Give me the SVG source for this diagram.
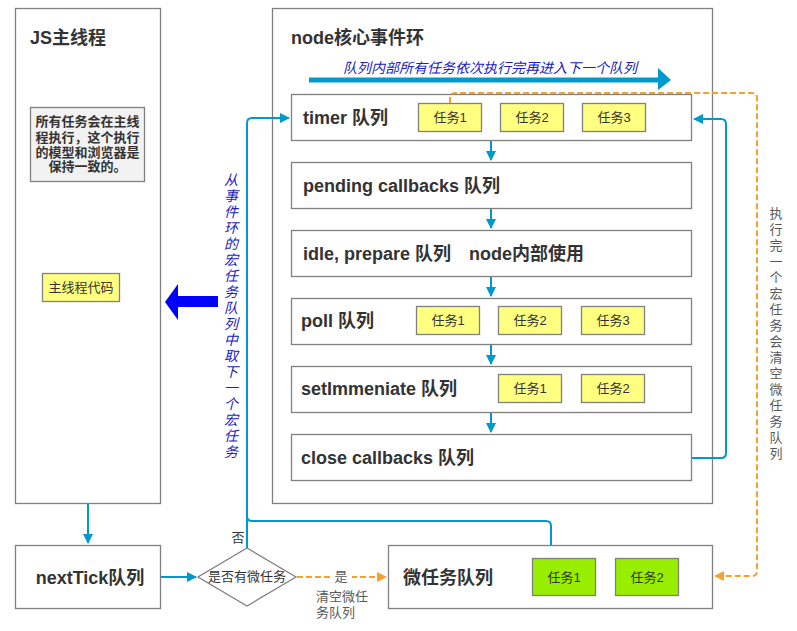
<svg xmlns="http://www.w3.org/2000/svg" width="797" height="631" viewBox="0 0 797 631">
<style>
text{font-family:"Liberation Sans","Noto Sans CJK SC",sans-serif;fill:#333}
.box{fill:#fff;stroke:#808080;stroke-width:1.3}
.title{font-size:18px;font-weight:bold}
.qlabel{font-size:18px;font-weight:bold}
.task{fill:#ffff80;stroke:#808080;stroke-width:1.3}
.gtask{fill:#99ee00;stroke:#808080;stroke-width:1.3}
.tt{font-size:13px;text-anchor:middle}
.blue{fill:none;stroke:#0099cc;stroke-width:2}
.orange{fill:none;stroke:#f5a030;stroke-width:2;stroke-dasharray:6 3}
.vt{font-size:14px;font-style:italic;fill:#2020c0;text-anchor:middle}
.gt{font-size:13px;fill:#595959}
</style>
<defs>
<marker id="ab" viewBox="0 0 10 10" refX="9" refY="5" markerWidth="5" markerHeight="5" orient="auto" markerUnits="strokeWidth"><path d="M0,0 L10,5 L0,10 z" fill="#0099cc"/></marker>
<marker id="ao" viewBox="0 0 10 10" refX="9" refY="5" markerWidth="5" markerHeight="5" orient="auto" markerUnits="strokeWidth"><path d="M0,0 L10,5 L0,10 z" fill="#f5a030"/></marker>
</defs>

<g id="js-thread">
<rect class="box" x="15.5" y="8.5" width="145" height="495"/>
<text class="title" x="30" y="44">JS主线程</text>
</g>
<g id="note">
<rect x="30.5" y="107.5" width="114" height="74" fill="#f2f2f2" stroke="#808080" stroke-width="1.3"/>
<text x="87.5" style="font-size:13px;font-weight:bold;text-anchor:middle"><tspan x="87.5" y="126">所有任务会在主线</tspan><tspan x="87.5" y="142">程执行，这个执行</tspan><tspan x="87.5" y="157">的模型和浏览器是</tspan><tspan x="87.5" y="171">保持一致的。</tspan></text>
</g>
<g id="main-code">
<rect class="task" x="42.5" y="273.5" width="77" height="28"/>
<text class="tt" x="81" y="292">主线程代码</text>
</g>
<g id="fat-arrow">
<path d="M218,296 L178,296 L178,284 L165,302 L178,320 L178,307 L218,307 z" fill="#0000ff"/>
</g>
<g id="left-caption">
<text class="vt" x="231"><tspan x="231" y="185">从</tspan><tspan x="231" y="201">事</tspan><tspan x="231" y="217">件</tspan><tspan x="231" y="233">环</tspan><tspan x="231" y="249">的</tspan><tspan x="231" y="265">宏</tspan><tspan x="231" y="281">任</tspan><tspan x="231" y="297">务</tspan><tspan x="231" y="313">队</tspan><tspan x="231" y="329">列</tspan><tspan x="231" y="345">中</tspan><tspan x="231" y="361">取</tspan><tspan x="231" y="377">下</tspan><tspan x="231" y="393">一</tspan><tspan x="231" y="409">个</tspan><tspan x="231" y="425">宏</tspan><tspan x="231" y="441">任</tspan><tspan x="231" y="457">务</tspan></text>
</g>

<g id="event-loop">
<rect class="box" x="272.5" y="8.5" width="440" height="495"/>
<text class="title" x="291" y="44">node核心事件环</text>
<text x="490" y="73" style="font-size:14px;font-style:italic;fill:#2020c0;text-anchor:middle">队列内部所有任务依次执行完再进入下一个队列</text>
<path d="M309,80 L660,80" stroke="#0099cc" stroke-width="5" fill="none"/>
<path d="M658,68 L671,80 L658,90 z" fill="#0099cc"/>
</g>

<g id="timer">
<rect class="box" x="291.5" y="94.5" width="400" height="46"/>
<text class="qlabel" x="303" y="124">timer 队列</text>
<rect class="task" x="418.5" y="103.5" width="63" height="28"/><text class="tt" x="450" y="122">任务1</text>
<rect class="task" x="500.5" y="103.5" width="63" height="28"/><text class="tt" x="532" y="122">任务2</text>
<rect class="task" x="582.5" y="103.5" width="63" height="28"/><text class="tt" x="614" y="122">任务3</text>
</g>
<g id="pending">
<rect class="box" x="291.5" y="162.5" width="400" height="46"/>
<text class="qlabel" x="303" y="192">pending callbacks 队列</text>
</g>
<g id="idle">
<rect class="box" x="291.5" y="230.5" width="400" height="46"/>
<text class="qlabel" x="303" y="260">idle, prepare 队列</text>
<text class="qlabel" x="469" y="260">node内部使用</text>
</g>
<g id="poll">
<rect class="box" x="291.5" y="298.5" width="400" height="46"/>
<text class="qlabel" x="301" y="327">poll 队列</text>
<rect class="task" x="416.5" y="306.5" width="63" height="28"/><text class="tt" x="448" y="325">任务1</text>
<rect class="task" x="498.5" y="306.5" width="63" height="28"/><text class="tt" x="530" y="325">任务2</text>
<rect class="task" x="581.5" y="306.5" width="63" height="28"/><text class="tt" x="613" y="325">任务3</text>
</g>
<g id="setimmediate">
<rect class="box" x="291.5" y="366.5" width="400" height="46"/>
<text class="qlabel" x="301" y="395">setImmeniate 队列</text>
<rect class="task" x="498.5" y="374.5" width="63" height="28"/><text class="tt" x="530" y="393">任务1</text>
<rect class="task" x="581.5" y="374.5" width="63" height="28"/><text class="tt" x="613" y="393">任务2</text>
</g>
<g id="close">
<rect class="box" x="291.5" y="434.5" width="400" height="46"/>
<text class="qlabel" x="301" y="464">close callbacks 队列</text>
</g>

<g id="nexttick">
<rect class="box" x="15.5" y="545.5" width="145" height="63"/>
<text class="title" x="90" y="584" text-anchor="middle">nextTick队列</text>
</g>
<g id="decision">
<path d="M247,548 L296,577 L247,606 L198,577 z" fill="#fff" stroke="#808080" stroke-width="1.3"/>
<text class="tt" x="247" y="581">是否有微任务</text>
</g>
<g id="microtask">
<rect class="box" x="388.5" y="545.5" width="324" height="63"/>
<text class="title" x="403" y="584">微任务队列</text>
<rect class="gtask" x="532.5" y="558.5" width="63" height="37"/><text class="tt" x="564" y="582">任务1</text>
<rect class="gtask" x="615.5" y="558.5" width="63" height="37"/><text class="tt" x="647" y="582">任务2</text>
</g>

<g id="connectors">
<path class="blue" d="M491,141 L491,160" marker-end="url(#ab)"/>
<path class="blue" d="M491,209 L491,228" marker-end="url(#ab)"/>
<path class="blue" d="M491,277 L491,296" marker-end="url(#ab)"/>
<path class="blue" d="M491,345 L491,364" marker-end="url(#ab)"/>
<path class="blue" d="M491,413 L491,432" marker-end="url(#ab)"/>
<path class="blue" d="M692,458 L721,458 Q726,458 726,453 L726,124 Q726,119 721,119 L694,119" marker-end="url(#ab)"/>
<path class="blue" d="M247,548 L247,123 Q247,118 252,118 L289,118" marker-end="url(#ab)"/>
<path class="blue" d="M551,545 L551,526 Q551,521 546,521 L252,521 Q247,521 247,516"/>
<path class="blue" d="M88,504 L88,543" marker-end="url(#ab)"/>
<path class="blue" d="M161,577 L196,577" marker-end="url(#ab)"/>
<path class="orange" d="M450,103 L450,98 Q450,93 455,93 L752,93 Q757,93 757,98 L757,571 Q757,576 752,576 L715,576" marker-end="url(#ao)"/>
<path class="orange" d="M297,577 L386,577" marker-end="url(#ao)"/>
<rect x="330" y="568" width="22" height="18" fill="#fff"/>
<text x="341" y="581" style="font-size:13px;fill:#595959;text-anchor:middle">是</text>
<text x="238" y="542" style="font-size:13px;fill:#333;text-anchor:middle">否</text>
<text class="gt"><tspan x="316" y="601">清空微任</tspan><tspan x="316" y="617">务队列</tspan></text>
<text class="gt" text-anchor="middle"><tspan x="776" y="218">执</tspan><tspan x="776" y="234">行</tspan><tspan x="776" y="250">完</tspan><tspan x="776" y="266">一</tspan><tspan x="776" y="282">个</tspan><tspan x="776" y="298">宏</tspan><tspan x="776" y="314">任</tspan><tspan x="776" y="330">务</tspan><tspan x="776" y="346">会</tspan><tspan x="776" y="362">清</tspan><tspan x="776" y="378">空</tspan><tspan x="776" y="394">微</tspan><tspan x="776" y="410">任</tspan><tspan x="776" y="426">务</tspan><tspan x="776" y="442">队</tspan><tspan x="776" y="458">列</tspan></text>
</g>
</svg>
